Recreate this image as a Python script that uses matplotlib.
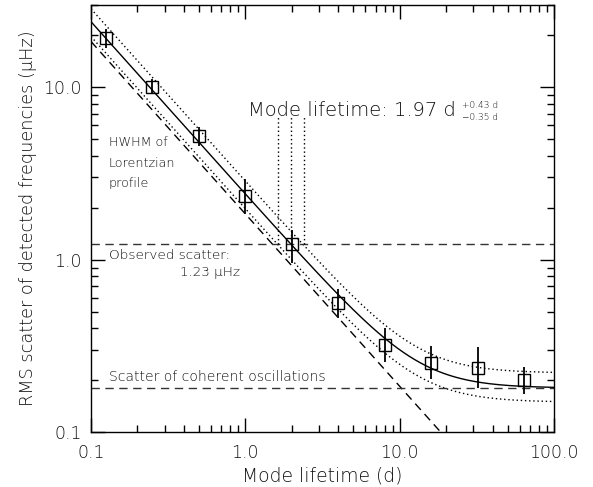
import numpy as np
import matplotlib
matplotlib.use("Agg")
import matplotlib.pyplot as plt
from matplotlib.ticker import LogLocator, FixedLocator, NullFormatter, FixedFormatter

# ---- data ----
lifetime = [0.125, 0.25, 0.5, 1.0, 2.0, 4.0, 8.0, 16.0, 32.0, 64.0]
rms = [19.3, 10.1, 5.2, 2.35, 1.23, 0.56, 0.32, 0.252, 0.236, 0.20]
err_hi = [21.7, 11.1, 5.86, 2.92, 1.49, 0.678, 0.40, 0.316, 0.312, 0.239]
err_lo = [16.9, 9.1, 4.54, 1.85, 0.96, 0.46, 0.255, 0.203, 0.180, 0.166]

# model parameters (fit curve and 1-sigma envelopes)
fit_coef, fit_floor = 2.40, 0.18
up_coef, up_floor = 2.85, 0.22
lo_coef, lo_floor = 1.97, 0.149
hwhm_coef = 1.842          # HWHM of Lorentzian: 1/(2 pi tau)
obs_scatter = 1.23
coherent_scatter = 0.18
tau_best, tau_lo, tau_hi = 1.97, 1.62, 2.40
vline_top = 6.7

xticks = [0.1, 1.0, 10.0, 100.0]
xticklabels = ["0.1", "1.0", "10.0", "100.0"]
yticks = [0.1, 1.0, 10.0]
yticklabels = ["0.1", "1.0", "10.0"]

plt.rcParams['font.family'] = ['DejaVu Sans']
plt.rcParams['font.weight'] = 'light'
plt.rcParams['axes.labelweight'] = 'light'
TXT = '#111111'
fig = plt.figure(figsize=(5.93, 4.87), dpi=100)
ax = fig.add_axes([91/593, 1 - 432/487, (554-91)/593, (432-5)/487])

tau = np.logspace(-1, 2, 400)
def model(c, b):
    return np.sqrt((c / tau) ** 2 + b ** 2)

DOT = (0, (1, 2))
DASH = (0, (6, 4))
ax.plot(tau, model(fit_coef, fit_floor), color='black', lw=1.0)
ax.plot(tau, model(up_coef, up_floor), color='black', lw=1.0, ls=DOT)
ax.plot(tau, model(lo_coef, lo_floor), color='black', lw=1.0, ls=DOT)
tau_h = np.logspace(-1, np.log10(hwhm_coef / 0.1), 50)
ax.plot(tau_h, hwhm_coef / tau_h, color='black', lw=1.0, ls=DASH)

ax.axhline(obs_scatter, color='#333333', lw=1.0, ls=DASH)
ax.axhline(coherent_scatter, color='#333333', lw=1.0, ls=DASH)

for t in (tau_lo, tau_best, tau_hi):
    ax.plot([t, t], [obs_scatter, vline_top], color='black', lw=1.0, ls=DOT)

lt = np.array(lifetime); r = np.array(rms)
yerr = np.vstack([r - np.array(err_lo), np.array(err_hi) - r])
ax.errorbar(lt, r, yerr=yerr, fmt='s', mfc='none', mec='black', mew=1.0,
            ms=9, ecolor='black', elinewidth=1.3, capsize=0)

ax.set_xscale('log'); ax.set_yscale('log')
ax.set_xlim(0.1, 100); ax.set_ylim(0.1, 30)

ax.xaxis.set_major_locator(FixedLocator(xticks))
ax.xaxis.set_major_formatter(FixedFormatter(xticklabels))
ax.yaxis.set_major_locator(FixedLocator(yticks))
ax.yaxis.set_major_formatter(FixedFormatter(yticklabels))
ax.xaxis.set_minor_locator(LogLocator(base=10, subs=np.arange(2, 10)))
ax.yaxis.set_minor_locator(LogLocator(base=10, subs=np.arange(2, 10)))
ax.xaxis.set_minor_formatter(NullFormatter())
ax.yaxis.set_minor_formatter(NullFormatter())
ax.tick_params(which='both', direction='in', top=True, right=True, labelsize=12.5,
               width=1.0, labelcolor=TXT)
ax.tick_params(which='major', length=10)
ax.tick_params(axis='x', which='major', pad=9)
ax.tick_params(axis='y', which='major', pad=6.5)
ax.tick_params(which='minor', length=5)
for s in ax.spines.values():
    s.set_linewidth(1.0)

ax.set_xlabel("Mode lifetime (d)", fontsize=13.5, labelpad=3, color=TXT)
ax.set_ylabel("RMS scatter of detected frequencies (\u03bcHz)", fontsize=12.8,
              labelpad=5, color=TXT)

def px(x, y):
    return (x / 593, 1 - y / 487)

fig.text(*px(248, 111), "Mode lifetime: 1.97 d", fontsize=14, va='center', ha='left', color=TXT)
fig.text(*px(462, 105), "+0.43 d", fontsize=6.5, va='center', ha='left', color=TXT)
fig.text(*px(462, 117), "\u22120.35 d", fontsize=6.5, va='center', ha='left', color=TXT)
fig.text(*px(109, 142), "HWHM of", fontsize=9.2, va='center', ha='left', color=TXT)
fig.text(*px(109, 163), "Lorentzian", fontsize=9.2, va='center', ha='left', color=TXT)
fig.text(*px(109, 183), "profile", fontsize=9.2, va='center', ha='left', color=TXT)
fig.text(*px(109, 255), "Observed scatter:", fontsize=9.7, va='center', ha='left', color=TXT)
fig.text(*px(180, 273), "1.23 \u03bcHz", fontsize=9.7, va='center', ha='left', color=TXT)
fig.text(*px(109, 377), "Scatter of coherent oscillations", fontsize=10, va='center', ha='left', color=TXT)

fig.savefig("out.png", dpi=100)
